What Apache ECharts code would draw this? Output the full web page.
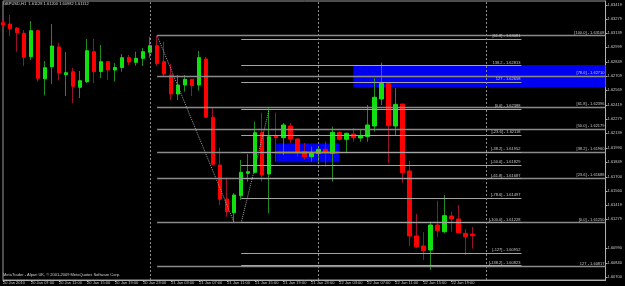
<!DOCTYPE html>
<html><head><meta charset="utf-8">
<script src="https://cdn.jsdelivr.net/npm/echarts@6/dist/echarts.min.js"></script>
<style>html,body{margin:0;padding:0;background:#000}#c{width:625px;height:286px}</style>
</head><body><div id="c"></div>
<script>
const symbolName = 'GBPUSD,H1';
const copyright = 'MetaTrader - Alpari UK, \u00a9 2001-2009 MetaQuotes Software Corp.';

// hourly categories from 20 Jan 03:00 (87 slots incl. empty right margin)
const categories = [];
for (let k = 0; k < 87; k++) {
  const t = 3 + k, d = 20 + Math.floor(t / 24), h = t % 24;
  categories.push(d + ' Jan ' + String(h).padStart(2, '0') + ':00');
}
const xTickLabels = ['20 Jan 2010','20 Jan 07:00','20 Jan 11:00','20 Jan 15:00','20 Jan 19:00','20 Jan 23:00',
  '21 Jan 03:00','21 Jan 07:00','21 Jan 11:00','21 Jan 15:00','21 Jan 19:00','21 Jan 23:00',
  '22 Jan 03:00','22 Jan 07:00','22 Jan 11:00','22 Jan 15:00','22 Jan 19:00'];
const yTicks = [1.63419,1.63279,1.63139,1.62999,1.62849,1.62709,1.62569,1.62419,1.62279,1.62139,
  1.61990,1.61849,1.61700,1.61560,1.61419,1.61279,1.60990,1.60840,1.60700];

const opens = [1.63242,1.63229,1.63189,1.63136,1.62902,1.63162,1.62682,1.62802,1.62999,1.62722,
1.62752,1.62596,1.62652,1.62952,1.62754,1.62852,1.62769,1.62794,1.62892,1.62846,
1.62886,1.62946,1.63012,1.62852,1.62719,1.62529,1.62619,1.62676,1.62619,1.62879,
1.62296,1.61819,1.61479,1.61342,1.61512,1.61736,1.61746,1.62142,1.61729,1.62109,
1.62092,1.62209,1.62079,1.61952,1.61902,1.61936,1.61976,1.61936,1.62146,1.62076,
1.62129,1.62089,1.62104,1.62209,1.62479,1.62636,1.62209,1.62429,1.61759,1.61109,
1.61009,1.60969,1.61219,1.61152,1.61309,1.61279,1.61136,1.61128];
const closes = [1.63219,1.63182,1.63142,1.62896,1.63162,1.62686,1.62792,1.63009,1.62739,1.62742,
1.62607,1.62662,1.62962,1.62752,1.62852,1.62769,1.62794,1.62892,1.62849,1.62886,
1.62952,1.63012,1.62834,1.62729,1.62529,1.62619,1.62676,1.62612,1.62892,1.62296,
1.61826,1.61476,1.61352,1.61519,1.61746,1.61752,1.62142,1.61719,1.62102,1.62092,
1.62219,1.62079,1.61952,1.61902,1.61942,1.61976,1.61946,1.62146,1.62076,1.62136,
1.62092,1.62109,1.62219,1.62496,1.62636,1.62212,1.62426,1.61744,1.61109,1.61002,
1.60962,1.61219,1.61162,1.61312,1.61279,1.61142,1.61102,1.61112];
const highs = [1.63269,1.63319,1.63199,1.63169,1.63259,1.63169,1.62859,1.63229,1.63042,1.62949,
1.62789,1.62759,1.63079,1.63079,1.63019,1.62852,1.62839,1.62929,1.62919,1.62952,
1.62989,1.63102,1.63112,1.63052,1.62829,1.62719,1.62719,1.62676,1.62959,1.62899,
1.62386,1.61992,1.61692,1.61539,1.61869,1.61929,1.62252,1.62342,1.62386,1.62342,
1.62239,1.62239,1.62089,1.62039,1.62002,1.62009,1.62052,1.62202,1.62152,1.62142,
1.62189,1.62169,1.62419,1.62686,1.62842,1.62636,1.62586,1.62429,1.61862,1.61329,
1.61149,1.61252,1.61462,1.61519,1.61352,1.61419,1.61179,1.61200];
const lows = [1.63199,1.63109,1.62952,1.62809,1.62869,1.62652,1.62514,1.62629,1.62664,1.62509,
1.62436,1.62489,1.62639,1.62639,1.62689,1.62669,1.62652,1.62752,1.62819,1.62812,
1.62809,1.62889,1.62809,1.62702,1.62469,1.62469,1.62552,1.62509,1.62562,1.62289,
1.61819,1.61419,1.61302,1.61242,1.61469,1.61652,1.61736,1.61652,1.61336,1.61852,
1.61919,1.62039,1.61902,1.61869,1.61852,1.61852,1.61802,1.61652,1.62062,1.61936,
1.62052,1.62052,1.62052,1.62152,1.62419,1.61836,1.62109,1.61642,1.61009,1.60989,
1.60869,1.60769,1.61102,1.61136,1.61152,1.61136,1.60919,1.60982];

// Fibonacci retracement (from 21 Jan high), lines extend to right edge
const fibCPrices = [1.63112,1.62709,1.62396,1.62179,1.61951,1.61688,1.61242,1.60802];
const fibCLabels = ['[100.0] - 1.63108','[78.6] - 1.62710','[61.8] - 1.62396','[50.0] - 1.62179',
  '[38.2] - 1.61960','[23.6] - 1.61688','[0.0] - 1.61250','127 - 1.60817'];
const fibCRange = [22, 86];
// Second Fibonacci (from 21 Jan low)
const fibBPrices = [1.63079,1.62812,1.62646,1.62376,1.62119,1.61946,1.61819,1.61682,1.61486,1.61242,1.60936,1.60814];
const fibBLabels = ['[61.8] - 1.63081','138.2 - 1.62813','127 - 1.62658','[0.0] - 1.62388','[-23.6] - 1.62118',
  '[-38.2] - 1.61952','[-50.0] - 1.61829','[-61.8] - 1.61687','[-78.6] - 1.61497','[-100.0] - 1.61228',
  '[-127] - 1.60952','[-138.2] - 1.60823'];
const fibBRange = [34, 74];
const trendC = [[22, 1.63112], [33, 1.61242]];
const trendB = [[34, 1.61242], [38, 1.62376]];
const rectBig = [[50, 1.62819], [86, 1.62596]];
const rectSmall = [[39, 1.62034], [48, 1.61846]];
const separators = [21, 45, 69];

const FONT = 'Liberation Sans';
const TXT = '#c8c8c8';
const n = opens.length;

function hlines(prices, labels, range, color, width) {
  return prices.map((p, k) => [
    { coord: [range[0], p], lineStyle: { color: color, width: width, type: 'solid' },
      label: { show: true, formatter: labels[k], position: 'insideEndTop', color: TXT,
               fontSize: 4, fontFamily: FONT, distance: 1 } },
    { coord: [range[1], p] }
  ]);
}
const lineData = []
  .concat(hlines(fibCPrices, fibCLabels, fibCRange, '#8a8a8a', 1.3))
  .concat(hlines(fibBPrices, fibBLabels, fibBRange, '#a4a4a4', 1))
  .concat([
    [{ coord: trendC[0], lineStyle: { color: '#a0a0a0', width: 1, type: 'dotted' }, label: { show: false } }, { coord: trendC[1] }],
    [{ coord: trendB[0], lineStyle: { color: '#a0a0a0', width: 1, type: 'dotted' }, label: { show: false } }, { coord: trendB[1] }],
    [{ coord: [rectSmall[0][0], 1.61949], lineStyle: { color: '#a09a40', width: 1.3, type: 'solid' }, label: { show: false } }, { coord: [rectSmall[1][0], 1.61949] }]
  ])
  .concat(separators.map(s => ({ xAxis: s, lineStyle: { color: '#8c8c8c', width: 1, type: [2, 2] }, label: { show: false } })));

const wickData = opens.map((o, i) => [o, closes[i], lows[i], highs[i]]);
const bodyData = opens.map((o, i) => [o, closes[i], Math.min(o, closes[i]), Math.max(o, closes[i])]);

const chart = echarts.init(document.getElementById('c'), null, { renderer: 'canvas' });
chart.setOption({
  backgroundColor: '#000',
  animation: false,
  title: [
    { text: symbolName + '  ' + opens[n-1].toFixed(5) + ' ' + highs[n-1].toFixed(5) + ' ' + lows[n-1].toFixed(5) + ' ' + closes[n-1].toFixed(5),
      left: 3, top: 2, padding: 0,
      textStyle: { fontSize: 4, color: '#d8d8d8', fontWeight: 'normal', fontFamily: FONT } },
    { text: copyright, left: 3, top: 273, padding: 0,
      textStyle: { fontSize: 4, color: '#d0d0d0', fontWeight: 'normal', fontFamily: FONT } }
  ],
  grid: { left: 1.1, right: 17.1, top: 1, bottom: 6, show: true, borderColor: '#9a9a9a', borderWidth: 1, containLabel: false },
  xAxis: {
    type: 'category', data: categories, boundaryGap: false,
    axisLine: { show: true, lineStyle: { color: '#b0b0b0', width: 1 } },
    axisTick: { show: true, length: 2, interval: (i) => i % 4 === 0 && i < n, lineStyle: { color: '#b0b0b0' } },
    axisLabel: { interval: (i) => i % 4 === 0 && i < n, formatter: (v, i) => xTickLabels[i / 4] || '',
      align: 'left', fontSize: 4, color: TXT, margin: 1, fontFamily: FONT },
    splitLine: { show: false }
  },
  yAxis: {
    type: 'value', position: 'right', min: 1.60669, max: 1.63459,
    axisLine: { show: true, lineStyle: { color: '#b0b0b0', width: 1 } },
    axisTick: { show: true, length: 2, customValues: yTicks, lineStyle: { color: '#b0b0b0' } },
    axisLabel: { customValues: yTicks, formatter: v => v.toFixed(5), fontSize: 4, color: TXT, margin: 2, fontFamily: FONT },
    splitLine: { show: false }
  },
  series: [
    { type: 'line', data: [], z: 1, silent: true,
      markArea: { silent: true, itemStyle: { color: '#0000f0', opacity: 1 },
        data: [
          [{ coord: rectBig[0] }, { coord: rectBig[1] }],
          [{ coord: rectSmall[0] }, { coord: rectSmall[1] }]
        ] } },
    { type: 'line', data: [], z: 2, silent: true,
      markLine: { silent: true, symbol: ['none', 'none'], animation: false, data: lineData } },
    { type: 'candlestick', name: 'wick', data: wickData, z: 3, barWidth: 1, silent: true,
      itemStyle: { color: '#1e8c1e', color0: '#9a1030', borderColor: '#1e8c1e', borderColor0: '#9a1030', borderWidth: 1 } },
    { type: 'candlestick', name: 'body', data: bodyData, z: 4, barWidth: 4, silent: true,
      itemStyle: { color: '#10e010', color0: '#ff0000', borderColor: '#10e010', borderColor0: '#ff0000', borderWidth: 1 },
      markLine: { silent: true, symbol: ['none', 'none'],
        data: [{ yAxis: closes[n-1], lineStyle: { opacity: 0, width: 0 },
          label: { show: true, position: 'end', formatter: p => Number(p.value).toFixed(5), backgroundColor: '#ffffff',
                   color: '#000', fontSize: 4, fontFamily: FONT, padding: [0, 1, 0, 1], distance: 2 } }] } }
  ]
});
</script></body></html>
